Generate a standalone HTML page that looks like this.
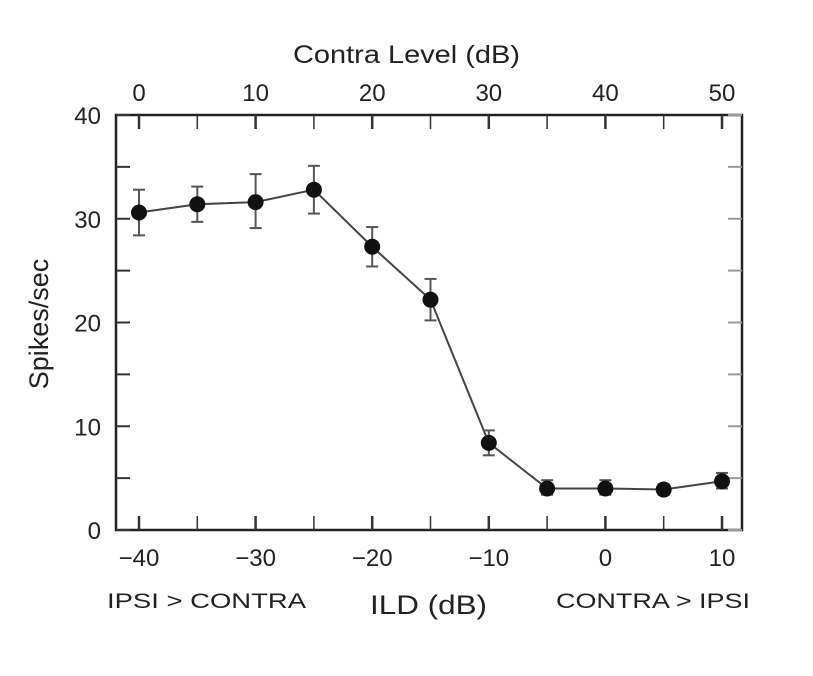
<!DOCTYPE html>
<html><head><meta charset="utf-8"><style>
body{margin:0;background:#fff;}
svg text{font-family:"Liberation Sans",Arial,sans-serif;fill:#222;}
</style></head><body>
<svg id="chart" width="813" height="671" viewBox="0 0 813 671">
<g id="g"></g>
</svg>
<script>
const ildValues=[-40,-35,-30,-25,-20,-15,-10,-5,0,5,10];
const spikes=[30.6,31.4,31.6,32.8,27.3,22.2,8.4,4.0,4.0,3.9,4.7];
const errLow=[28.4,29.7,29.1,30.5,25.4,20.2,7.2,3.4,3.4,3.4,4.0];
const errHigh=[32.8,33.1,34.3,35.1,29.2,24.2,9.6,4.8,4.8,4.4,5.5];
const xTicks=[-40,-30,-20,-10,0,10];
const topTicks=[0,10,20,30,40,50];
const yTicks=[0,10,20,30,40];
const L=116,R=742,T=115,B=530;
const x=v=>139+(v+40)*(722-139)/50;
const y=v=>B-v*(B-T)/40;
const g=document.getElementById('g');
const NS='http://www.w3.org/2000/svg';
function mk(t,a,txt){const e=document.createElementNS(NS,t);for(const k in a)e.setAttribute(k,a[k]);if(txt!==undefined)e.textContent=txt;g.appendChild(e);return e;}
let e;
e=mk('rect',{x:L,y:T,width:R-L,height:B-T,fill:'none',stroke:'#222','stroke-width':2.5});

for(let v=-40;v<=10;v+=5){
 const w=v%10===0?2.5:1.5;
 e=mk('line',{x1:x(v),x2:x(v),y1:B,y2:B-14,stroke:'#333','stroke-width':w});
 
 e=mk('line',{x1:x(v),x2:x(v),y1:T,y2:T+14,stroke:'#333','stroke-width':w});
 
}
for(let v=0;v<=40;v+=5){
 e=mk('line',{x1:L,x2:L+14,y1:y(v),y2:y(v),stroke:'#333','stroke-width':2});
 
 e=mk('line',{x1:R,x2:R-14,y1:y(v),y2:y(v),stroke:'#999','stroke-width':2});
 
}
xTicks.forEach(v=>{e=mk('text',{x:x(v),y:566,'text-anchor':'middle','font-size':24},(v<0?'\u2212'+(-v):v));
 });
topTicks.forEach((v,i)=>{e=mk('text',{x:x(xTicks[i]),y:101,'text-anchor':'middle','font-size':24},v);
 });
yTicks.forEach(v=>{e=mk('text',{x:101,y:y(v)+9,'text-anchor':'end','font-size':24},v);
 });
e=mk('text',{x:293,y:63,'font-size':25,textLength:227,lengthAdjust:'spacingAndGlyphs'},'Contra Level (dB)');

e=mk('text',{x:370,y:614,'font-size':27,textLength:117,lengthAdjust:'spacingAndGlyphs'},'ILD (dB)');

e=mk('text',{x:107,y:608,'font-size':21,textLength:199,lengthAdjust:'spacingAndGlyphs'},'IPSI > CONTRA');

e=mk('text',{x:556,y:608,'font-size':21,textLength:194,lengthAdjust:'spacingAndGlyphs'},'CONTRA > IPSI');

e=mk('text',{x:48,y:324,'text-anchor':'middle','font-size':27,transform:'rotate(-90 48 324)'},'Spikes/sec');

e=mk('polyline',{points:ildValues.map((v,i)=>x(v)+','+y(spikes[i])).join(' '),fill:'none',stroke:'#444','stroke-width':2});

ildValues.forEach((v,i)=>{
 const cx=x(v),c='#555';
 e=mk('line',{x1:cx,x2:cx,y1:y(errLow[i]),y2:y(errHigh[i]),stroke:c,'stroke-width':2});
 
 [errLow[i],errHigh[i]].forEach(ev=>{e=mk('line',{x1:cx-6,x2:cx+6,y1:y(ev),y2:y(ev),stroke:c,'stroke-width':2});
  });
 e=mk('circle',{cx:cx,cy:y(spikes[i]),r:8,fill:'#111'});
 
});
</script>
</body></html>
